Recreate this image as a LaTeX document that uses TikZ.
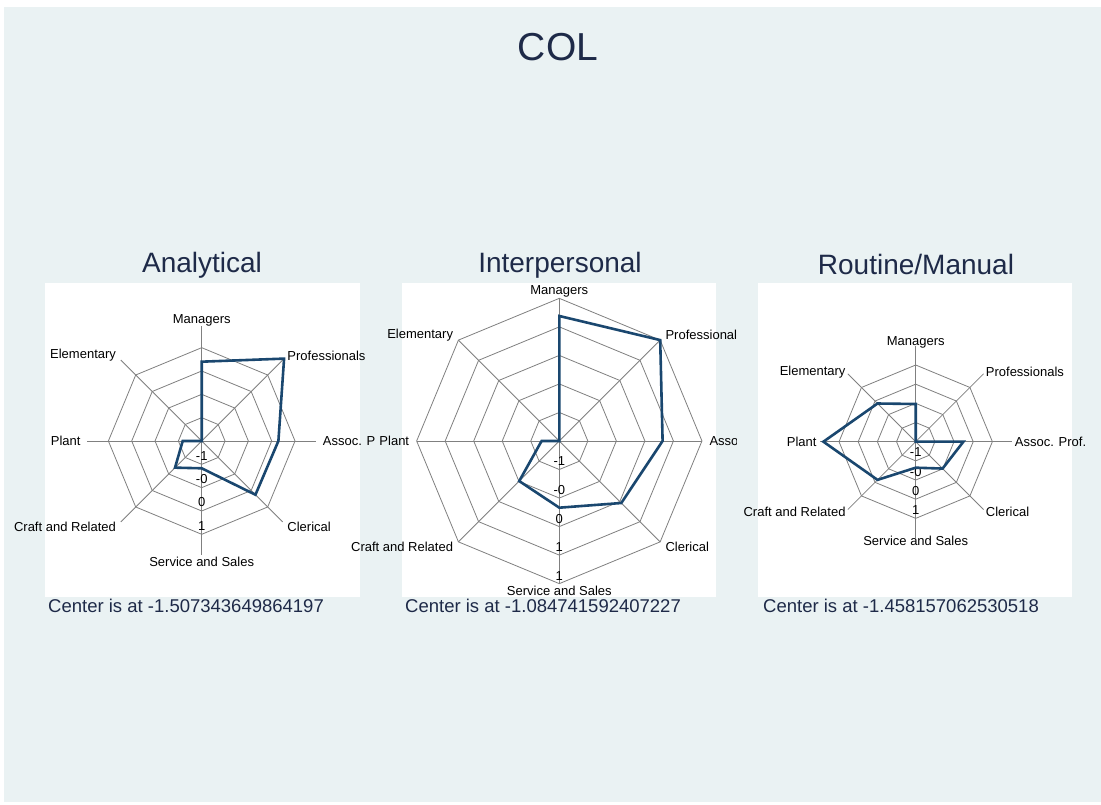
\documentclass[tikz,border=0pt]{standalone}
\usepackage{fontspec}
\setmainfont{Liberation Sans}
\usepackage{tikz}

\definecolor{bgblue}{RGB}{234,242,243}
\definecolor{statanavy}{RGB}{26,71,111}
\definecolor{titleink}{RGB}{30,42,72}

\tikzset{
    webline/.style={draw=gray, line width=0.8pt},
    radarline/.style={draw=statanavy, line width=2.6pt},
    axlabel/.style={font=\fontsize{13}{15}\selectfont, inner sep=0pt},
    ticklabel/.style={font=\fontsize{13}{15}\selectfont, inner sep=0pt},
    paneltitle/.style={font=\fontsize{28}{32}\selectfont, text=titleink},
    centernote/.style={font=\fontsize{18.5}{22}\selectfont, text=titleink, anchor=west, inner sep=0pt}
}

\begin{document}
\begin{tikzpicture}[x=1pt, y=1pt]
    \useasboundingbox (0,0) rectangle (1101,805);
    \fill[bgblue] (4,3) rectangle (1101,798);

    \node[font=\fontsize{39}{44}\selectfont, text=titleink] (maintitle) at (558,758) {COL};

    % Analytical
    \node[paneltitle] (anatitle) at (202,540) {Analytical};
    \fill[white] (45,208) rectangle (360,522);
    \begin{scope}
        \clip (0,0) rectangle (375,805);
        \begin{scope}[shift={(201.7,364)}]
            \foreach \k in {1,...,4}
                \draw[webline] (90:{23.33*\k}) \foreach \a in {45,0,...,-225}{ -- (\a:{23.33*\k})} -- cycle;
            \foreach \a in {90,45,...,-225}
                \draw[webline] (0,0) -- (\a:114.5);
            \foreach \a/\t/\anc [count=\i] in {90/Managers/center, 45/Professionals/west, 0/Assoc. Prof./west, -45/Clerical/west, -90/Service and Sales/center, -135/Craft and Related/east, 180/Plant/east, 135/Elementary/east}
                \node[axlabel, anchor=\anc] (analab\i) at (\a:121) {\t};
            \foreach \v [count=\k] in {-1,-0,0,1}
                \node[ticklabel] (anatick\k) at (0,{-23.33*\k+8.5}) {\v};
            \draw[radarline] (90:79.3) -- (45:116.5) -- (0:76.7) -- (-45:76) -- (-90:27.3) -- (-135:37.7) -- (180:19) -- (135:0) -- cycle;
        \end{scope}
    \end{scope}
    \node[centernote] (anacenter) at (48,199) {Center is at -1.507343649864197};

    % Interpersonal
    \node[paneltitle] (inttitle) at (560,540) {Interpersonal};
    \fill[white] (402,208) rectangle (716,522);
    \begin{scope}
        \clip (0,0) rectangle (736,805);
        \begin{scope}[shift={(559.3,364)}]
            \foreach \k in {1,...,5}
                \draw[webline] (90:{28.53*\k}) \foreach \a in {45,0,...,-225}{ -- (\a:{28.53*\k})} -- cycle;
            \foreach \a in {90,45,...,-225}
                \draw[webline] (0,0) -- (\a:142.7);
            \foreach \a/\t/\anc [count=\i] in {90/Managers/center, 45/Professionals/west, 0/Assoc. Prof./west, -45/Clerical/west, -90/Service and Sales/center, -135/Craft and Related/east, 180/Plant/east, 135/Elementary/east}
                \node[axlabel, anchor=\anc] (intlab\i) at (\a:150) {\t};
            \foreach \v [count=\k] in {-1,-0,0,1,1}
                \node[ticklabel] (inttick\k) at (0,{-28.53*\k+8}) {\v};
            \draw[radarline] (90:125) -- (45:142.7) -- (0:103.3) -- (-45:87.7) -- (-90:66.7) -- (-135:56.7) -- (180:17.7) -- (135:0) -- cycle;
        \end{scope}
    \end{scope}
    \node[centernote] (intcenter) at (405,199) {Center is at -1.084741592407227};

    % Routine/Manual
    \node[paneltitle] (routitle) at (916,540) {Routine/Manual};
    \fill[white] (758,208) rectangle (1072,522);
    \begin{scope}[shift={(915.7,363.3)}]
        \foreach \k in {1,...,4}
            \draw[webline] (90:{19.17*\k}) \foreach \a in {45,0,...,-225}{ -- (\a:{19.17*\k})} -- cycle;
        \foreach \a in {90,45,...,-225}
            \draw[webline] (0,0) -- (\a:96);
        \foreach \a/\t/\anc [count=\i] in {90/Managers/center, 45/Professionals/west, 0/Assoc. Prof./west, -45/Clerical/west, -90/Service and Sales/center, -135/Craft and Related/east, 180/Plant/east, 135/Elementary/east}
            \node[axlabel, anchor=\anc] (roulab\i) at (\a:99) {\t};
        \foreach \v [count=\k] in {-1,-0,0,1}
            \node[ticklabel] (routick\k) at (0,{-19.17*\k+8.5}) {\v};
        \draw[radarline] (90:37.7) -- (45:0) -- (0:47.7) -- (-45:38) -- (-90:26) -- (-135:54) -- (180:92.3) -- (135:54) -- cycle;
    \end{scope}
    \node[centernote] (roucenter) at (763,199) {Center is at -1.458157062530518};
\end{tikzpicture}
\end{document}
